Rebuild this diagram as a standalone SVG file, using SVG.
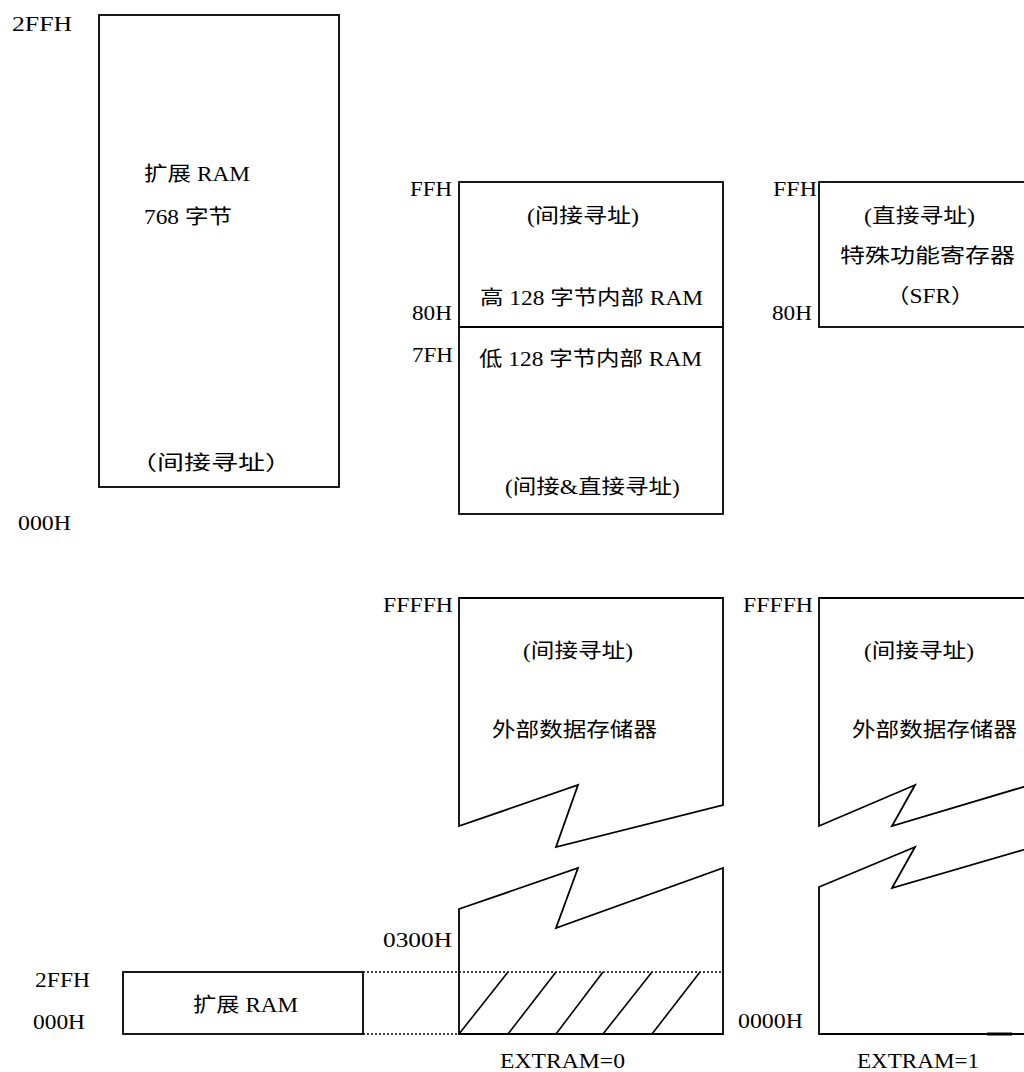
<svg xmlns="http://www.w3.org/2000/svg" width="1024" height="1072" viewBox="0 0 1024 1072">
<style>
.s{fill:none;stroke:#000;stroke-width:1.8;stroke-linejoin:miter}
.d{fill:none;stroke:#000;stroke-width:1.3;stroke-dasharray:2 2}
.h{fill:none;stroke:#000;stroke-width:1.6}
text{font-family:"Liberation Serif",serif;font-size:20px;fill:#000}
text.c{font-family:"Noto Sans CJK SC",sans-serif}
</style>
<rect width="1024" height="1072" fill="#fff"/>

<g id="ext-ram-768">
<rect class="s" x="99" y="15" width="240" height="472"/>
<text x="12" y="31" textLength="60" lengthAdjust="spacingAndGlyphs">2FFH</text>
<text class="c" x="144" y="181" textLength="47" lengthAdjust="spacingAndGlyphs">扩展</text>
<text x="197" y="181" textLength="53" lengthAdjust="spacingAndGlyphs">RAM</text>
<text x="144" y="224" textLength="35" lengthAdjust="spacingAndGlyphs">768</text>
<text class="c" x="185" y="224" textLength="47" lengthAdjust="spacingAndGlyphs">字节</text>
<text class="c" x="130" y="470" textLength="162" lengthAdjust="spacingAndGlyphs">（间接寻址）</text>
<text x="18" y="530" textLength="53" lengthAdjust="spacingAndGlyphs">000H</text>
</g>

<g id="internal-ram">
<rect class="s" x="459" y="182" width="264" height="332"/>
<line class="s" x1="459" y1="327" x2="723" y2="327"/>
<text x="410" y="196" textLength="42" lengthAdjust="spacingAndGlyphs">FFH</text>
<text x="527" y="223" textLength="8" lengthAdjust="spacingAndGlyphs">(</text>
<text class="c" x="535" y="223" textLength="96" lengthAdjust="spacingAndGlyphs">间接寻址</text>
<text x="631" y="223" textLength="8" lengthAdjust="spacingAndGlyphs">)</text>
<text class="c" x="480" y="305" textLength="23.4" lengthAdjust="spacingAndGlyphs">高</text>
<text x="509.3" y="305" textLength="35.1" lengthAdjust="spacingAndGlyphs">128</text>
<text class="c" x="550.3" y="305" textLength="93.6" lengthAdjust="spacingAndGlyphs">字节内部</text>
<text x="649.8" y="305" textLength="53.3" lengthAdjust="spacingAndGlyphs">RAM</text>
<text x="412" y="320" textLength="40" lengthAdjust="spacingAndGlyphs">80H</text>
<text x="412" y="362" textLength="41" lengthAdjust="spacingAndGlyphs">7FH</text>
<text class="c" x="479" y="366" textLength="23.4" lengthAdjust="spacingAndGlyphs">低</text>
<text x="508.3" y="366" textLength="35.1" lengthAdjust="spacingAndGlyphs">128</text>
<text class="c" x="549.3" y="366" textLength="93.6" lengthAdjust="spacingAndGlyphs">字节内部</text>
<text x="648.8" y="366" textLength="53.3" lengthAdjust="spacingAndGlyphs">RAM</text>
<text x="505" y="494" textLength="7.8" lengthAdjust="spacingAndGlyphs">(</text>
<text class="c" x="512.8" y="494" textLength="47" lengthAdjust="spacingAndGlyphs">间接</text>
<text x="559.8" y="494" textLength="18.3" lengthAdjust="spacingAndGlyphs">&amp;</text>
<text class="c" x="578.1" y="494" textLength="94" lengthAdjust="spacingAndGlyphs">直接寻址</text>
<text x="672.1" y="494" textLength="7.8" lengthAdjust="spacingAndGlyphs">)</text>
</g>

<g id="sfr">
<rect class="s" x="819" y="182" width="220" height="145"/>
<text x="773" y="196" textLength="44" lengthAdjust="spacingAndGlyphs">FFH</text>
<text x="772" y="320" textLength="40" lengthAdjust="spacingAndGlyphs">80H</text>
<text x="864" y="223" textLength="8" lengthAdjust="spacingAndGlyphs">(</text>
<text class="c" x="872" y="223" textLength="95" lengthAdjust="spacingAndGlyphs">直接寻址</text>
<text x="967" y="223" textLength="8" lengthAdjust="spacingAndGlyphs">)</text>
<text class="c" x="840" y="263" textLength="175" lengthAdjust="spacingAndGlyphs">特殊功能寄存器</text>
<text class="c" x="886" y="303" textLength="23.4" lengthAdjust="spacingAndGlyphs">（</text>
<text x="909.4" y="303" textLength="41.6" lengthAdjust="spacingAndGlyphs">SFR</text>
<text class="c" x="951" y="303" textLength="23.4" lengthAdjust="spacingAndGlyphs">）</text>
</g>

<g id="ext-data-0">
<path class="s" d="M459,826 L459,598 L723,598 L723,805 L556,847 L578,785 Z"/>
<path class="s" d="M459,909 L578,868 L556,928 L723,868 L723,1034 L459,1034 Z"/>
<text x="383" y="612" textLength="70" lengthAdjust="spacingAndGlyphs">FFFFH</text>
<text x="523" y="658" textLength="7.8" lengthAdjust="spacingAndGlyphs">(</text>
<text class="c" x="530.8" y="658" textLength="94.4" lengthAdjust="spacingAndGlyphs">间接寻址</text>
<text x="625.2" y="658" textLength="7.8" lengthAdjust="spacingAndGlyphs">)</text>
<text class="c" x="492" y="737" textLength="165" lengthAdjust="spacingAndGlyphs">外部数据存储器</text>
<text x="383" y="947" textLength="69" lengthAdjust="spacingAndGlyphs">0300H</text>
<text x="500" y="1068" textLength="125" lengthAdjust="spacingAndGlyphs">EXTRAM=0</text>
<g id="hatch">
<line class="h" x1="459" y1="1034" x2="508" y2="972"/>
<line class="h" x1="508" y1="1034" x2="556" y2="972"/>
<line class="h" x1="556" y1="1034" x2="603" y2="972"/>
<line class="h" x1="603" y1="1034" x2="652" y2="972"/>
<line class="h" x1="652" y1="1034" x2="700" y2="972"/>
</g>
</g>

<g id="ext-data-1">
<path class="s" d="M1040,598 L819,598 L819,826 L915,785 L892,826 L1040,782"/>
<path class="s" d="M1040,845 L892,888 L915,847 L819,887 L819,1034 L1040,1034"/>
<line x1="987" y1="1034" x2="1012" y2="1034" stroke="#000" stroke-width="3"/>
<text x="743" y="612" textLength="70" lengthAdjust="spacingAndGlyphs">FFFFH</text>
<text x="864" y="658" textLength="7.8" lengthAdjust="spacingAndGlyphs">(</text>
<text class="c" x="871.8" y="658" textLength="94.4" lengthAdjust="spacingAndGlyphs">间接寻址</text>
<text x="966.2" y="658" textLength="7.8" lengthAdjust="spacingAndGlyphs">)</text>
<text class="c" x="852" y="737" textLength="165" lengthAdjust="spacingAndGlyphs">外部数据存储器</text>
<text x="738" y="1028" textLength="65" lengthAdjust="spacingAndGlyphs">0000H</text>
<text x="857" y="1068" textLength="122" lengthAdjust="spacingAndGlyphs">EXTRAM=1</text>
</g>

<g id="ext-ram-small">
<rect class="s" x="123" y="972" width="240" height="62"/>
<text x="35" y="987" textLength="55" lengthAdjust="spacingAndGlyphs">2FFH</text>
<text x="33" y="1029" textLength="52" lengthAdjust="spacingAndGlyphs">000H</text>
<text class="c" x="193" y="1012" textLength="46.5" lengthAdjust="spacingAndGlyphs">扩展</text>
<text x="245.5" y="1012" textLength="52.5" lengthAdjust="spacingAndGlyphs">RAM</text>
</g>

<g id="connectors">
<line class="d" x1="363" y1="972" x2="723" y2="972"/>
<line class="d" x1="363" y1="1034" x2="459" y2="1034"/>
</g>
</svg>
